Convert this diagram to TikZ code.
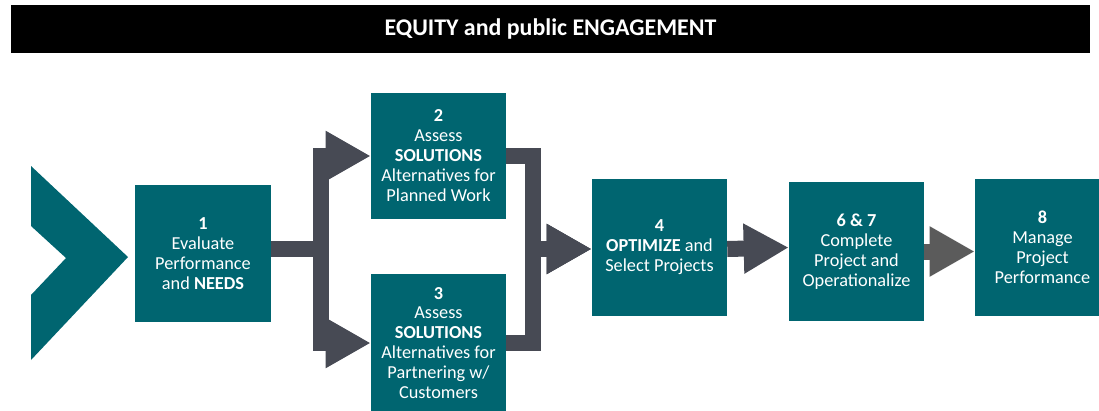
\documentclass[tikz,border=0pt]{standalone}
\usepackage{fontspec}
\setmainfont{Carlito}
\usetikzlibrary{arrows.meta}

\definecolor{stepteal}{HTML}{006570}
\definecolor{flowgray}{HTML}{474A54}
\definecolor{lastgray}{HTML}{5B5B5B}

\begin{document}
\begin{tikzpicture}[x=0.025cm,y=-0.025cm,
	stepbox/.style={fill=stepteal, text=white, inner sep=0pt, align=center,
		minimum width=3.375cm, font=\fontsize{13}{14.2}\selectfont},
	flow/.style={draw=flowgray, line width=0.4cm, line join=miter,
		-{Triangle[length=1.125cm,width=1.175cm]}},
	titlebar/.style={fill=black, text=white, inner sep=0pt,
		font=\fontsize{17}{19}\selectfont\bfseries}]
	\clip (0,0) rectangle (1099,410);
	% header
	\node[titlebar, minimum width=26.975cm, minimum height=1.2cm] (title) at (550.5,29) {EQUITY and public ENGAGEMENT};
	% start chevron
	\fill[stepteal] (31,166) -- (128,257) -- (31,360) -- (31,295) -- (66,258) -- (31,226) -- cycle;
	% steps
	\node[stepbox, minimum width=3.4cm, minimum height=3.425cm] (n1) at (203,253.5) {\textbf{1}\\Evaluate\\Performance\\and \textbf{NEEDS}};
	\node[stepbox, minimum height=3.15cm] (n2) at (438.5,156) {\textbf{2}\\Assess\\\textbf{SOLUTIONS}\\Alternatives for\\Planned Work};
	\node[stepbox, minimum height=3.45cm] (n3) at (438.5,343) {\textbf{3}\\Assess\\\textbf{SOLUTIONS}\\Alternatives for\\Partnering w/\\Customers};
	\node[stepbox, minimum height=3.425cm] (n4) at (659.5,247.5) {\textbf{4}\\\textbf{OPTIMIZE} and\\Select Projects};
	\node[stepbox, minimum height=3.475cm] (n67) at (856.5,251.5) {\textbf{6 \& 7}\\Complete\\Project and\\Operationalize};
	\node[stepbox, minimum height=3.425cm] (n8) at (1042.5,247.5) {\textbf{8}\\Manage\\Project\\Performance};
	% split and merge points
	\coordinate (split) at (321,249);
	\coordinate (merge) at (533,249);
	% connectors
	\draw[flow] (n1.east |- split) -- (split) |- (n2.west);
	\draw[flow] (n1.east |- split) -- (split) |- (n3.west);
	\draw[flow] (n2.east) -| (merge) -- (n4.west |- merge);
	\draw[flow] (n3.east) -| (merge) -- (n4.west |- merge);
	\draw[flow] (n4.east |- merge) -- (n4.east -| n67.west);
	\draw[flow, draw=lastgray] (n67.east) -- (n67.east -| n8.west);
\end{tikzpicture}
\end{document}
